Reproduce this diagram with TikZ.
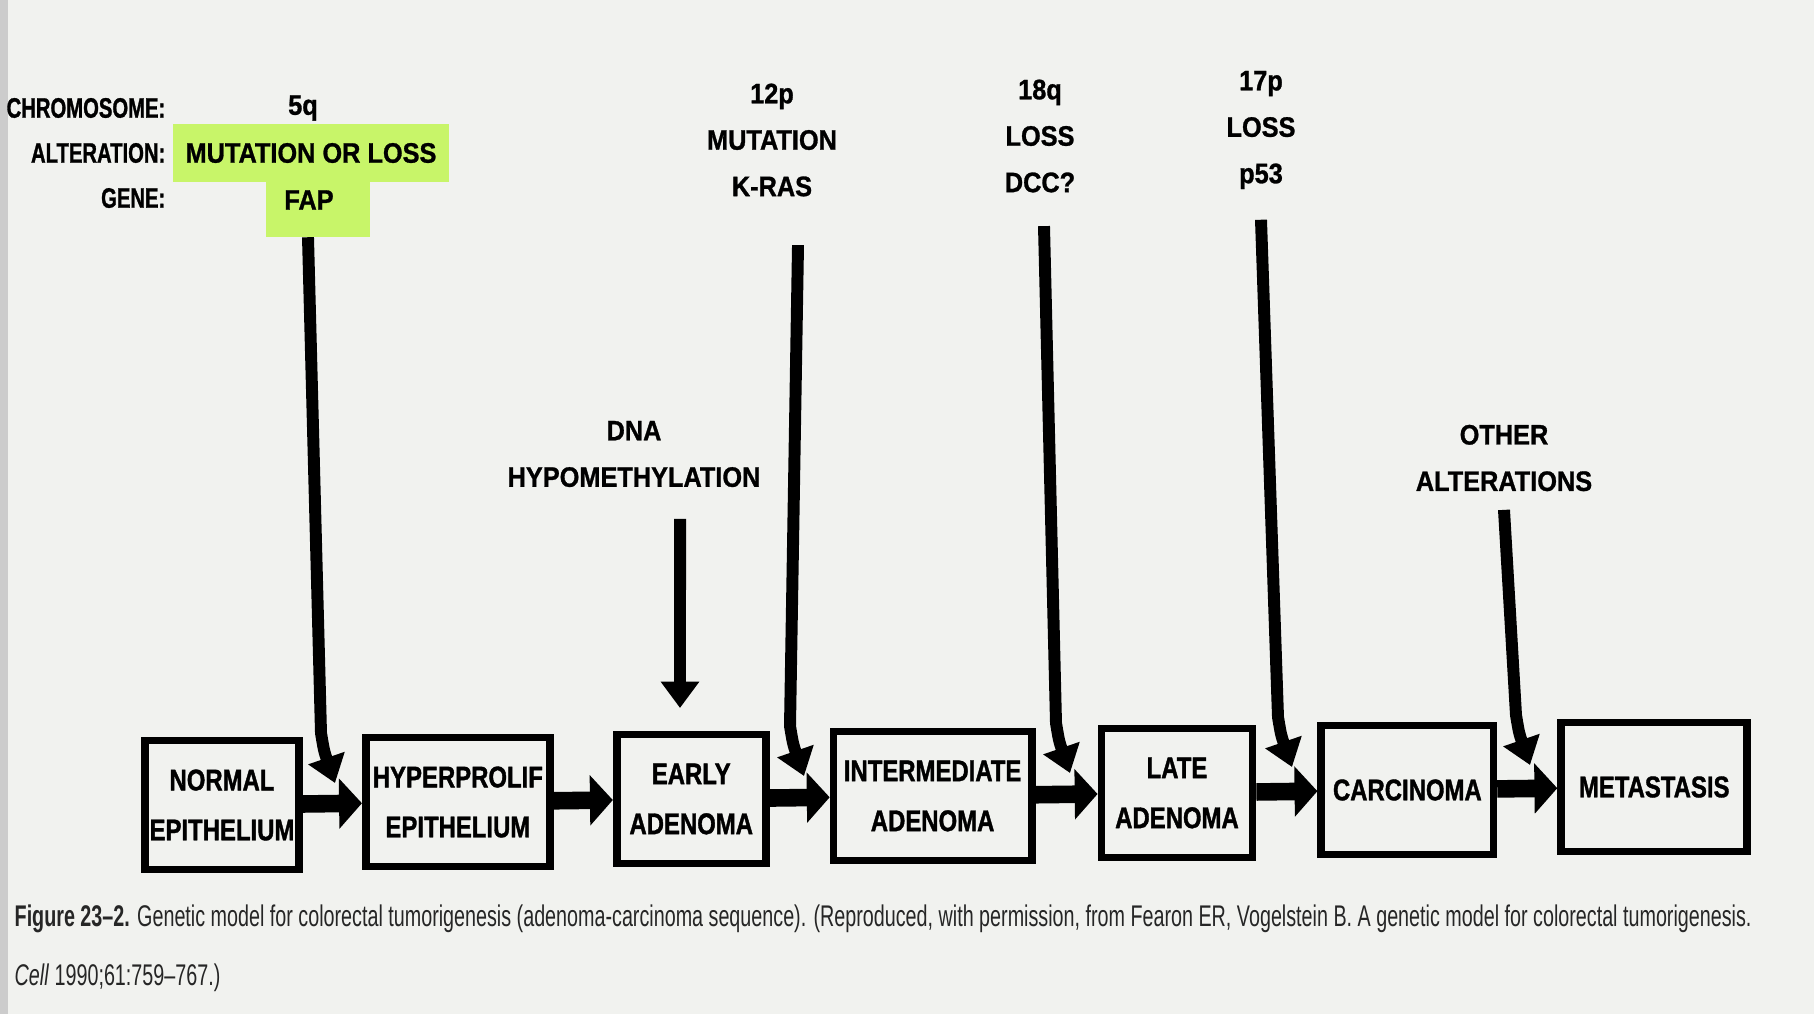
\documentclass[tikz,border=0pt]{standalone}
\usepackage{graphicx}
\usepackage{fontspec}
\setmainfont{Liberation Sans}
\newfontfamily\labfont[FakeStretch=0.9,FakeBold=1]{Liberation Sans}
\newfontfamily\keyfont[FakeStretch=0.72,FakeBold=1]{Liberation Sans}
\newfontfamily\boxfont[FakeStretch=0.8,FakeBold=1.2]{Liberation Sans}
\usetikzlibrary{positioning,arrows.meta,calc}
\definecolor{paper}{RGB}{241,242,239}
\definecolor{marker}{RGB}{200,245,105}

\begin{document}
\begin{tikzpicture}[x=0.01cm,y=-0.01cm]
\tikzset{
  stage/.style={draw, line width=2.2pt, minimum height=1.29cm, align=center, inner sep=1pt,
    font=\boxfont\bfseries\fontsize{8.5}{14.2}\selectfont},
  lab/.style={align=center, inner sep=0pt, font=\labfont\bfseries\fontsize{8}{13.2}\selectfont},
  hl/.style={fill=marker, inner xsep=0.13cm, inner ysep=0pt, minimum height=0.57cm},
  flow/.style={line width=5pt, -{Triangle[width=14pt,length=6.5pt]}},
  hit/.style={line width=3.4pt, -{Triangle[width=10.5pt,length=7.5pt]}},
  hook/.style={to path={-- ($(\tikztotarget)+(-14,-50)$) .. controls ($(\tikztotarget)+(-11,-32)$) .. (\tikztotarget)}}
}
\useasboundingbox (0,0) rectangle (1814,1014);
\fill[paper] (0,0) rectangle (1814,1014);
\fill[gray!40] (0,0) rectangle (8,1014);

\node[stage, minimum width=1.54cm] (norm) at (222,805) {NORMAL\\EPITHELIUM};
\node[stage, minimum width=1.84cm, right=0.59cm of norm, yshift=0.3mm] (hyper) {HYPERPROLIF\\EPITHELIUM};
\node[stage, minimum width=1.49cm, right=0.59cm of hyper, yshift=0.3mm] (early) {EARLY\\ADENOMA};
\node[stage, minimum width=1.98cm, right=0.6cm of early, yshift=0.3mm] (inter) {INTERMEDIATE\\ADENOMA};
\node[stage, minimum width=1.51cm, right=0.62cm of inter, yshift=0.3mm] (late) {LATE\\ADENOMA};
\node[stage, minimum width=1.72cm, right=0.61cm of late, yshift=0.3mm] (carc) {CARCINOMA};
\node[stage, minimum width=1.86cm, right=0.6cm of carc, yshift=0.3mm] (meta) {METASTASIS};
\foreach \a/\b in {norm/hyper,hyper/early,early/inter,inter/late,late/carc,carc/meta}
  \draw[flow] (\a) -- (\b);

\node[lab, font=\keyfont\bfseries\fontsize{8}{12.8}\selectfont, align=right, anchor=east] (keys) at (166,153) {CHROMOSOME:\\ALTERATION:\\GENE:};
\node[lab] (chr5q) at (303,108) {5q};
\node[lab, hl] (alt5q) at (311,153) {MUTATION OR LOSS};
\node[hl, minimum width=1.03cm] (fapmark) at (318,208) {};
\node[lab] (gen5q) at (309,200) {FAP};
\node[lab] (col12p) at (772,140) {12p\\MUTATION\\K-RAS};
\node[lab] (col18q) at (1040,136) {18q\\LOSS\\DCC?};
\node[lab] (col17p) at (1261,130) {17p\\LOSS\\p53};
\node[lab] (dna) at (634,454) {DNA\\HYPOMETHYLATION};
\node[lab] (other) at (1504,458) {OTHER\\ALTERATIONS};

\coordinate (faptip) at (335,783);
\coordinate (dnatip) at (680,708);
\coordinate (rastip) at (804,776);
\coordinate (dcctip) at (1070,773);
\coordinate (p53tip) at (1292,767);
\coordinate (othtip) at (1530,765);
\draw[hit, hook] ([xshift=-0.1cm]fapmark.south) to (faptip);
\draw[hit] ([xshift=0.46cm,yshift=-0.31cm]dna.south) -- (dnatip);
\draw[hit, hook] ([xshift=0.26cm,yshift=-0.48cm]col12p.south) to (rastip);
\draw[hit, hook] ([xshift=0.04cm,yshift=-0.33cm]col18q.south) to (dcctip);
\draw[hit, hook] ([yshift=-0.3cm]col17p.south) to (p53tip);
\draw[hit, hook] ([yshift=-0.18cm]other.south) to (othtip);

\node[anchor=north west, inner sep=0pt, text=black!85, font=\fontsize{8.5}{10}\selectfont] (cap) at (14,901)
  {\resizebox{17.36cm}{\height}{\begin{tabular}{@{}l@{}}\textbf{Figure 23–2.} Genetic model for colorectal tumorigenesis (adenoma-carcinoma sequence). (Reproduced, with permission, from Fearon ER, Vogelstein B. A genetic model for colorectal tumorigenesis.\\[6.8pt]
  \textit{Cell} 1990;61:759–767.)\end{tabular}}};
\end{tikzpicture}
\end{document}
